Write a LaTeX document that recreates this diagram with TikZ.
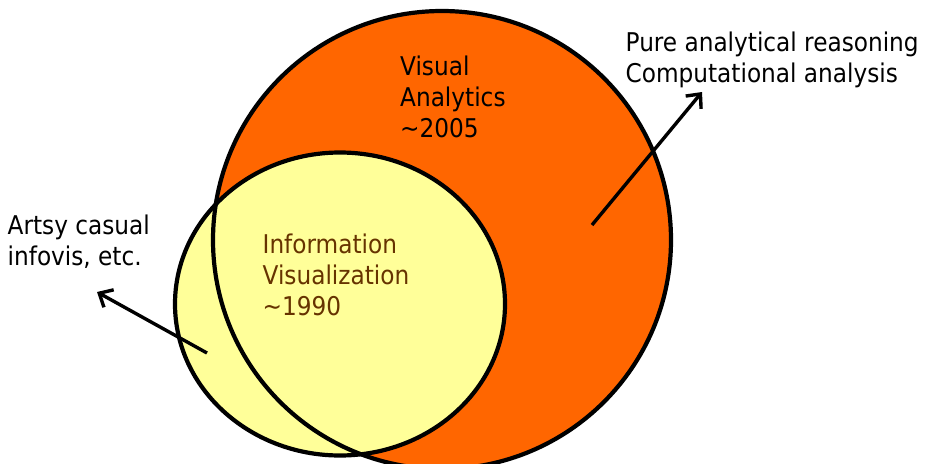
\documentclass[tikz,border=0pt]{standalone}
\usepackage{fontspec}
\setmainfont{DejaVu Sans Condensed}
\usetikzlibrary{arrows.meta,shapes.geometric}
\definecolor{vaorange}{RGB}{255,102,0}
\definecolor{ivyellow}{RGB}{255,255,153}
\definecolor{ivbrown}{RGB}{102,51,0}
\begin{document}
\begin{tikzpicture}[x=1pt,y=-1pt,
  outline/.style={draw=black,line width=4.2pt},
  lbl/.style={anchor=base west,inner sep=0pt,align=left,font=\fontsize{25.8}{30.8}\selectfont},
  pointer/.style={line width=3.4pt,-{Straight Barb[length=11pt,width=20pt]}}]
\useasboundingbox (0,0) rectangle (925,463);
\clip (0,0) rectangle (925,463);
% shapes
\node[circle,fill=vaorange,minimum size=458pt,inner sep=0pt] (va) at (442,240) {};
\node[ellipse,fill=ivyellow,minimum width=330pt,minimum height=303pt,inner sep=0pt] (iv) at (340,304) {};
\draw[outline] (va.center) circle[radius=229pt];
\draw[outline] (iv.center) ellipse[x radius=165pt,y radius=151.5pt];
% labels (anchored at the baseline of the last line)
\node[lbl] (valbl) at (400,137) {Visual\\Analytics\\\char`~2005};
\node[lbl,text=ivbrown] (ivlbl) at (262.5,315) {Information\\Visualization\\\char`~1990};
\node[lbl] (pure) at (625.5,82) {Pure analytical reasoning\\Computational analysis};
\node[lbl] (artsy) at (7.5,265) {Artsy casual\\infovis, etc.};
% arrows
\coordinate (rs) at (592,225);
\coordinate (re) at (702,92);
\coordinate (ls) at (207,353);
\coordinate (le) at (97,292);
\draw[pointer] (rs) -- (re);
\draw[pointer] (ls) -- (le);
\end{tikzpicture}
\end{document}
